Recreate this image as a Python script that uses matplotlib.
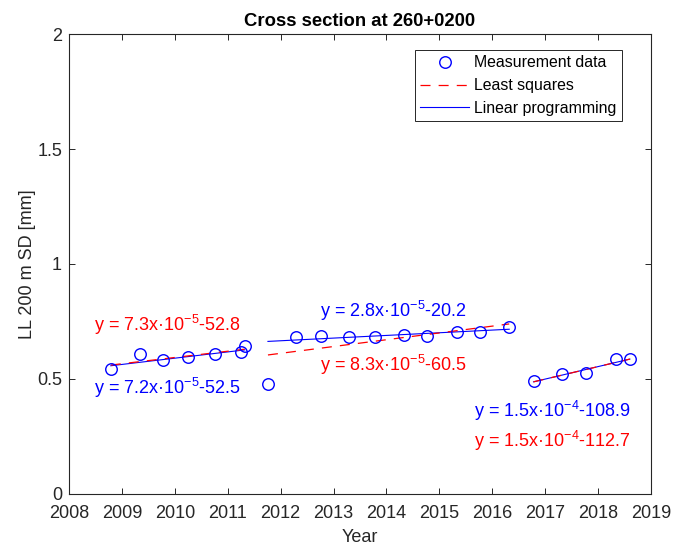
import numpy as np
import matplotlib
matplotlib.use('Agg')
import matplotlib.pyplot as plt

year = [2008.79, 2009.34, 2009.77, 2010.24, 2010.75, 2011.26, 2011.32,
        2011.76,
        2012.29, 2012.76, 2013.29, 2013.78, 2014.33, 2014.77, 2015.33, 2015.77, 2016.32,
        2016.78, 2017.32, 2017.78, 2018.34, 2018.60]
ll_sd = [0.543, 0.608, 0.582, 0.594, 0.608, 0.618, 0.643,
         0.476,
         0.683, 0.687, 0.681, 0.683, 0.690, 0.687, 0.703, 0.705, 0.724,
         0.491, 0.520, 0.524, 0.586, 0.586]

#=== Fitted segments ===
seg_from = [2008.79, 2011.76, 2016.78]
seg_to = [2011.32, 2016.32, 2018.60]
ls_from = [0.560, 0.604, 0.487]
ls_to = [0.629, 0.739, 0.586]
lp_from = [0.557, 0.663, 0.487]
lp_to = [0.626, 0.716, 0.586]

#=== Equations ===
ls_eq = ['y = 7.3x·10$^{-5}$-52.8', 'y = 8.3x·10$^{-5}$-60.5', 'y = 1.5x·10$^{-4}$-112.7']
lp_eq = ['y = 7.2x·10$^{-5}$-52.5', 'y = 2.8x·10$^{-5}$-20.2', 'y = 1.5x·10$^{-4}$-108.9']

x_ticks = list(range(2008, 2020))
y_ticks = [0, 0.5, 1, 1.5, 2]
y_ticklabels = ['0', '0.5', '1', '1.5', '2']

#=== Style ===
plt.rcParams['font.family'] = ['Liberation Sans', 'DejaVu Sans']
plt.rcParams['mathtext.fontset'] = 'custom'
plt.rcParams['mathtext.rm'] = 'Liberation Sans'
plt.rcParams['mathtext.it'] = 'Liberation Sans'
plt.rcParams['mathtext.default'] = 'rm'
ink = '#262626'
fs = 13

fig = plt.figure(figsize=(6.86, 5.48), dpi=100)
ax = fig.add_axes([0.1006, 0.0991, 0.8484, 0.8383])

ax.plot(year, ll_sd, 'o', ms=8.3, mfc='none', mec='blue', mew=1.0,
        label='Measurement data', zorder=4)

for i in range(len(seg_from)):
    ax.plot([seg_from[i], seg_to[i]], [lp_from[i], lp_to[i]], '-', color='blue', lw=0.8,
            label='Linear programming' if i == 0 else None, zorder=2)
    ax.plot([seg_from[i], seg_to[i]], [ls_from[i], ls_to[i]], color='red', lw=0.9,
            linestyle=(0, (8, 6.5)), label='Least squares' if i == 0 else None, zorder=3)

#=== Equation labels ===
ls_pos = [(2008.47, 0.710), (2012.745, 0.534), (2015.656, 0.2046)]
lp_pos = [(2008.47, 0.434), (2012.745, 0.771), (2015.656, 0.3326)]
for i in range(3):
    ax.text(ls_pos[i][0], ls_pos[i][1], ls_eq[i], color='red', fontsize=fs, va='baseline', ha='left')
    ax.text(lp_pos[i][0], lp_pos[i][1], lp_eq[i], color='blue', fontsize=fs, va='baseline', ha='left')

ax.set_xlim(2008, 2019)
ax.set_ylim(0, 2)
ax.set_xticks(x_ticks)
ax.set_yticks(y_ticks)
ax.set_yticklabels(y_ticklabels)
ax.tick_params(direction='in', length=4.1, width=0.7, colors=ink, labelsize=fs,
               top=True, right=True)
ax.tick_params(axis='x', pad=8)
ax.tick_params(axis='y', pad=5)
for s in ax.spines.values():
    s.set_color(ink)
    s.set_linewidth(0.8)

ax.set_xlabel('Year', fontsize=fs, color=ink)
ax.xaxis.set_label_coords(0.5, -0.077)
ax.set_ylabel('LL 200 m SD [mm]', fontsize=fs, color=ink)
ax.yaxis.set_label_coords(-0.057, 0.5)
ax.set_title('Cross section at 260+0200', fontsize=13.3, fontweight='bold', pad=6)

#=== Legend ===
h, l = ax.get_legend_handles_labels()
order = [l.index('Measurement data'), l.index('Least squares'), l.index('Linear programming')]
leg = ax.legend([h[k] for k in order], [l[k] for k in order], loc='upper right',
                bbox_to_anchor=(0.950, 0.966), borderaxespad=0, fontsize=11.4,
                numpoints=1, handlelength=3.1, handletextpad=0.3, borderpad=0.35,
                labelspacing=0.48, fancybox=False, framealpha=1)
leg.get_frame().set_edgecolor(ink)
leg.get_frame().set_linewidth(0.7)

fig.savefig('out.png', dpi=100)
